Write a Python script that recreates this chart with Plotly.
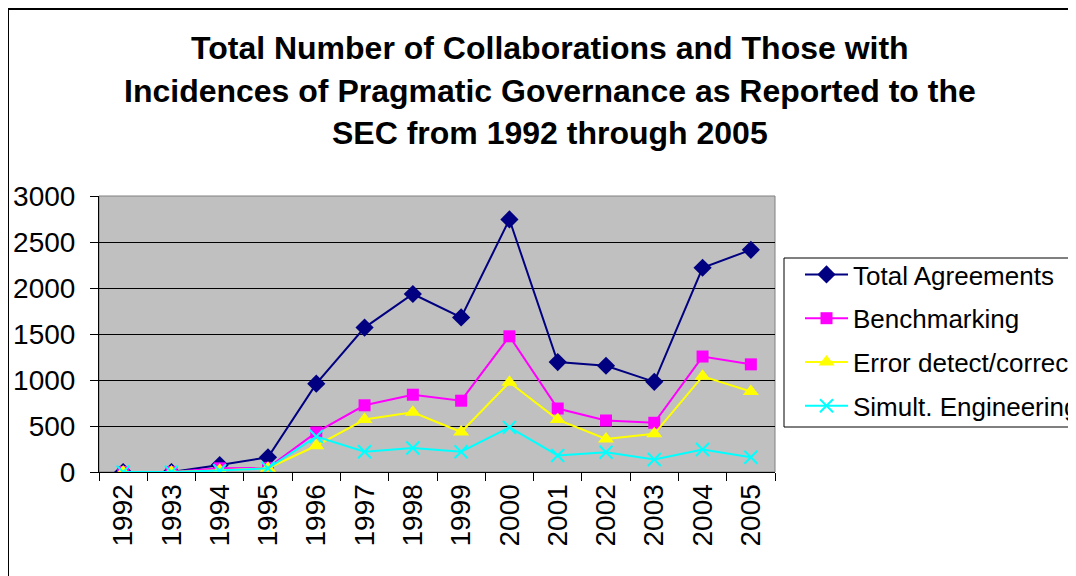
import plotly.graph_objects as go

years = [str(y) for y in range(1992, 2006)]
total = [0, 0, 75, 160, 960, 1570, 1935, 1680, 2745, 1195, 1155, 980, 2220, 2415]
bench = [0, 0, 40, 45, 430, 725, 840, 775, 1475, 690, 560, 535, 1255, 1170]
error = [0, 0, 20, 40, 285, 570, 650, 435, 975, 570, 360, 415, 1040, 875]
simult = [0, 0, 15, 40, 385, 220, 260, 220, 485, 180, 215, 135, 245, 160]

FONT = "Liberation Sans, Arial, sans-serif"

# page is offset by 8px body margin, so work in figure pixels
OFF = 8
L, R, T, B = 99 - OFF, 775 - OFF, 196 - OFF, 472 - OFF
W, H = 1076, 576

def px(x):
    return (x - OFF - L) / (R - L)

def py(y):
    return (B - (y - OFF)) / (B - T)

fig = go.Figure()
fig.add_trace(go.Scatter(x=years, y=total, name='Total Agreements', mode='lines+markers',
                         legendgroup='a',
                         line=dict(color='#000080', width=2),
                         marker=dict(symbol='diamond', size=14, color='#000080')))
fig.add_trace(go.Scatter(x=years, y=bench, name='Benchmarking', mode='lines+markers',
                         legendgroup='b',
                         line=dict(color='#FF00FF', width=2),
                         marker=dict(symbol='square', size=12, color='#FF00FF')))
fig.add_trace(go.Scatter(x=years, y=error, name='Error detect/correct', mode='lines+markers',
                         legendgroup='c',
                         line=dict(color='#FFFF00', width=2),
                         marker=dict(symbol='triangle-up', size=14, color='#FFFF00')))
fig.add_trace(go.Scatter(x=years, y=simult, name='Simult. Engineering', mode='lines+markers',
                         legendgroup='d',
                         line=dict(color='#00FFFF', width=2),
                         marker=dict(symbol='x-thin', size=13, color='#00FFFF',
                                     line=dict(color='#00FFFF', width=2))))

title_lines = ["Total Number of Collaborations and Those with",
               "Incidences of Pragmatic Governance as Reported to the",
               "SEC from 1992 through 2005"]
for txt, yy in zip(title_lines, [48, 91, 133]):
    fig.add_annotation(text="<b>%s</b>" % txt, xref='paper', yref='paper',
                       x=px(550), y=py(yy), xanchor='center', yanchor='middle',
                       showarrow=False, font=dict(family=FONT, size=32, color='black'))

# outer chart border, plot area border, legend box
fig.add_shape(type='rect', xref='paper', yref='paper', x0=px(8), x1=px(1200),
              y0=py(700), y1=py(9), line=dict(color='black', width=2), layer='below')
fig.add_shape(type='rect', xref='paper', yref='paper', x0=0, x1=1, y0=0, y1=1,
              line=dict(color='#808080', width=1), layer='below')
fig.add_shape(type='rect', xref='paper', yref='paper', x0=px(784), x1=px(1200),
              y0=py(427), y1=py(258), line=dict(color='black', width=1),
              fillcolor='white', layer='below')

fig.update_layout(
    width=W, height=H,
    margin=dict(l=L, r=W - R, t=T, b=H - B, autoexpand=False),
    paper_bgcolor='white', plot_bgcolor='#C0C0C0',
    font=dict(family=FONT, size=26, color='black'),
    showlegend=True,
    legend=dict(x=px(800), y=py(251), xanchor='left', yanchor='top',
                bgcolor='rgba(0,0,0,0)', borderwidth=0, itemwidth=43,
                font=dict(family=FONT, size=26), tracegroupgap=7),
)
fig.update_xaxes(type='category', range=[-0.5, 13.5], tickangle=-90, showgrid=False,
                 showline=True, linecolor='black', linewidth=1, ticks='outside',
                 ticklen=8, tickcolor='black', tickson='boundaries',
                 tickfont=dict(family=FONT, size=28))
fig.update_yaxes(range=[0, 3000], dtick=500, showgrid=True, gridcolor='black',
                 gridwidth=1, showline=True, linecolor='black', linewidth=1,
                 ticks='outside', ticklen=8, tickcolor='black', zeroline=False,
                 ticklabelstandoff=9, tickfont=dict(family=FONT, size=28))

fig.write_html("out.html")
